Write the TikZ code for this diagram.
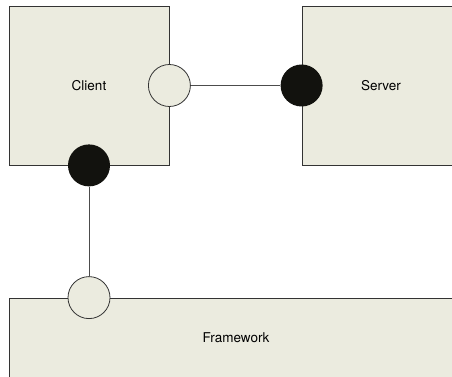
\documentclass[tikz,border=0pt]{standalone}
\usepackage{fontspec}
\setmainfont{TeX Gyre Heros}
\usetikzlibrary{positioning}
\definecolor{partfill}{RGB}{235,235,223}
\definecolor{ballfill}{RGB}{18,18,14}
\tikzset{
  part/.style={draw=black!80, fill=partfill, line width=0.8pt, inner sep=0pt,
    font=\fontsize{13.5}{16}\selectfont},
  socket/.style={circle, draw=black!80, fill=partfill, line width=0.8pt,
    minimum size=42pt, inner sep=0pt},
  ball/.style={circle, fill=ballfill, minimum size=42pt, inner sep=0pt},
  wire/.style={draw=black!70, line width=0.8pt}
}
\begin{document}
\begin{tikzpicture}[x=1pt, y=-1pt]
\useasboundingbox (0,0) rectangle (452,377);
\clip (0,0) rectangle (452,377);
\node[part, minimum width=160pt, minimum height=159pt] (client) at (89,85.5) {Client};
\node[part, minimum width=158pt, minimum height=159pt] (server) at (381,85.5) {Server};
\node[part, minimum width=454pt, minimum height=80pt] (framework) at (236,338) {Framework};
\node[socket] (clsock) at (client.east) {};
\node[ball] (clball) at (client.south) {};
\node[ball] (svball) at (server.west) {};
\node[socket] (fwsock) at (client.south |- framework.north) {};
\draw[wire] (clsock) -- (svball);
\draw[wire] (clball) -- (fwsock);
\end{tikzpicture}
\end{document}
